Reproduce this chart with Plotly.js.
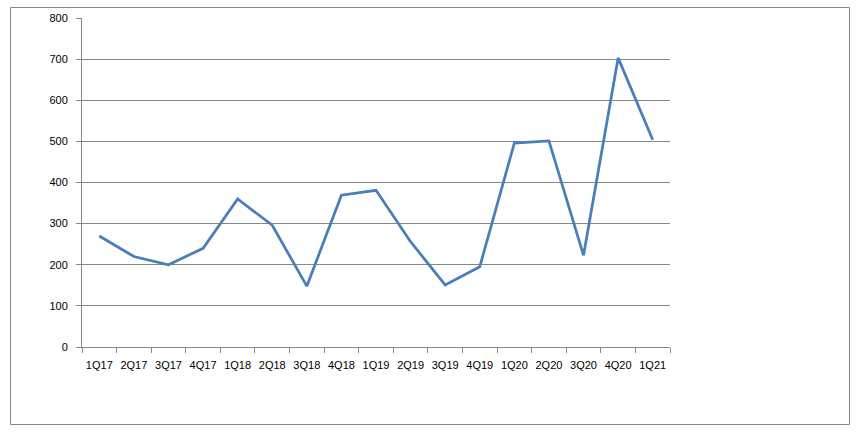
<!DOCTYPE html>
<html>
<head>
<meta charset="utf-8">
<script src="https://cdn.plot.ly/plotly-3.0.1.min.js"></script>
<style>html,body{margin:0;padding:0;background:#fff}#chart{width:860px;height:435px}</style>
</head>
<body>
<div id="chart"></div>
<script>
var quarters = ["1Q17","2Q17","3Q17","4Q17","1Q18","2Q18","3Q18","4Q18","1Q19","2Q19","3Q19","4Q19","1Q20","2Q20","3Q20","4Q20","1Q21"];
var values = [270, 220, 200, 240, 360, 296, 148, 369, 381, 256, 151, 195, 496, 501, 223, 703, 504];
var yTicks = [0,100,200,300,400,500,600,700,800];

var trace = {
  x: quarters, y: values, type: "scatter", mode: "lines",
  line: {color: "#4a7ebb", width: 2.75},
  hoverinfo: "x+y"
};
var layout = {
  width: 860, height: 435,
  margin: {l: 82, r: 190, t: 18, b: 88},
  paper_bgcolor: "#fff", plot_bgcolor: "#fff",
  showlegend: false,
  font: {family: "Liberation Sans, Arial, sans-serif", size: 11, color: "#000"},
  xaxis: {
    type: "category", range: [-0.5, 16.5], tickangle: 0,
    tickson: "boundaries", ticks: "outside", ticklen: 5, tickcolor: "#868686",
    ticklabelstandoff: 8,
    showline: true, linecolor: "#868686", linewidth: 1,
    showgrid: false, zeroline: false, fixedrange: true
  },
  yaxis: {
    range: [0, 800], tickvals: yTicks, ticktext: yTicks.map(String),
    ticks: "outside", ticklen: 5, tickcolor: "#868686", ticklabelstandoff: 6,
    showline: true, linecolor: "#868686", linewidth: 1,
    showgrid: true, gridcolor: "#868686", gridwidth: 1,
    zeroline: false, fixedrange: true
  },
  shapes: [{
    type: "rect", xref: "paper", yref: "paper",
    x0: (10.5-82)/588, x1: (849.5-82)/588,
    y0: (347-424.5)/329, y1: (347-7.5)/329,
    line: {color: "#868686", width: 1}, fillcolor: "rgba(0,0,0,0)", layer: "below"
  }]
};
Plotly.newPlot("chart", [trace], layout, {displayModeBar: false, staticPlot: true});
</script>
</body>
</html>
